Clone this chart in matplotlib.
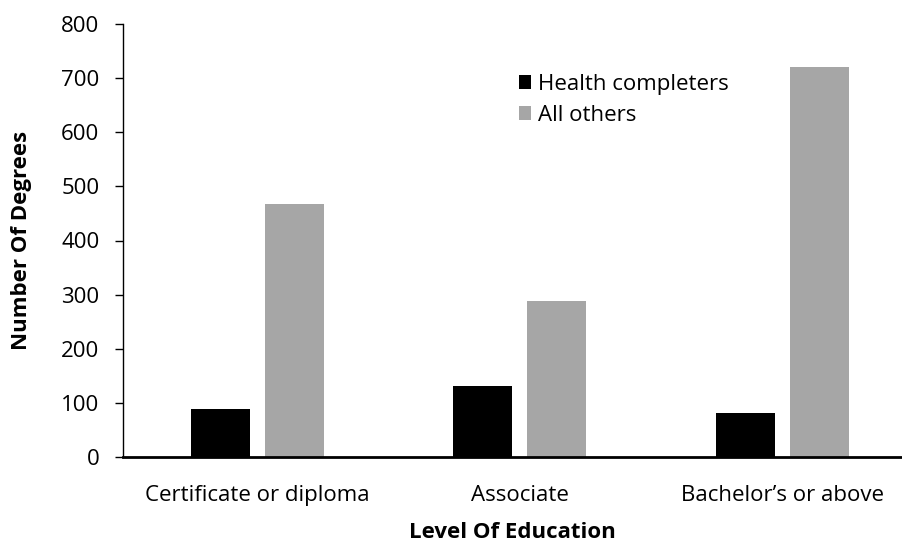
import matplotlib
matplotlib.use("Agg")
import matplotlib.pyplot as plt
import numpy as np

categories = ["Certificate or diploma", "Associate", "Bachelor\u2019s or above"]
health = [89, 132, 82]
others = [467, 289, 720]
series_names = ["Health completers", "All others"]
yticks = [0, 100, 200, 300, 400, 500, 600, 700, 800]

plt.rcParams['font.family'] = ['Open Sans', 'DejaVu Sans']

fig = plt.figure(figsize=(9.02, 5.42), dpi=100)
ax = fig.add_axes([123/902, 1-457/542, (902-123)/902, (457-24)/542])

x = np.arange(len(categories))
w = 0.225
off = 0.141
ax.bar(x - off, health, w, color="black", label=series_names[0])
ax.bar(x + off, others, w, color="#A6A6A6", label=series_names[1])

ax.set_xlim(-0.512, 2.456)
ax.set_ylim(0, 800)
ax.set_yticks(yticks)
ax.set_xticks(x)
ax.set_xticklabels(categories, fontsize=16)
ax.tick_params(axis='y', labelsize=16, length=6, width=1, direction='out', pad=11)
ax.tick_params(axis='x', length=0, pad=20)
for s in ["top", "right"]:
    ax.spines[s].set_visible(False)
ax.spines["left"].set_linewidth(1)
ax.spines["bottom"].set_linewidth(2)

ax.set_ylabel("Number Of Degrees", fontsize=16, fontweight="bold", labelpad=21)
ax.set_xlabel("Level Of Education", fontsize=16, fontweight="bold", labelpad=12)

leg = ax.legend(loc="upper left", bbox_to_anchor=(519/902, 1-74/542), bbox_transform=fig.transFigure,
                frameon=False, fontsize=16, handlelength=0.55, handleheight=0.6,
                handletextpad=0.3, labelspacing=0.43, borderpad=0, borderaxespad=0)

fig.savefig("out.png", dpi=100)
